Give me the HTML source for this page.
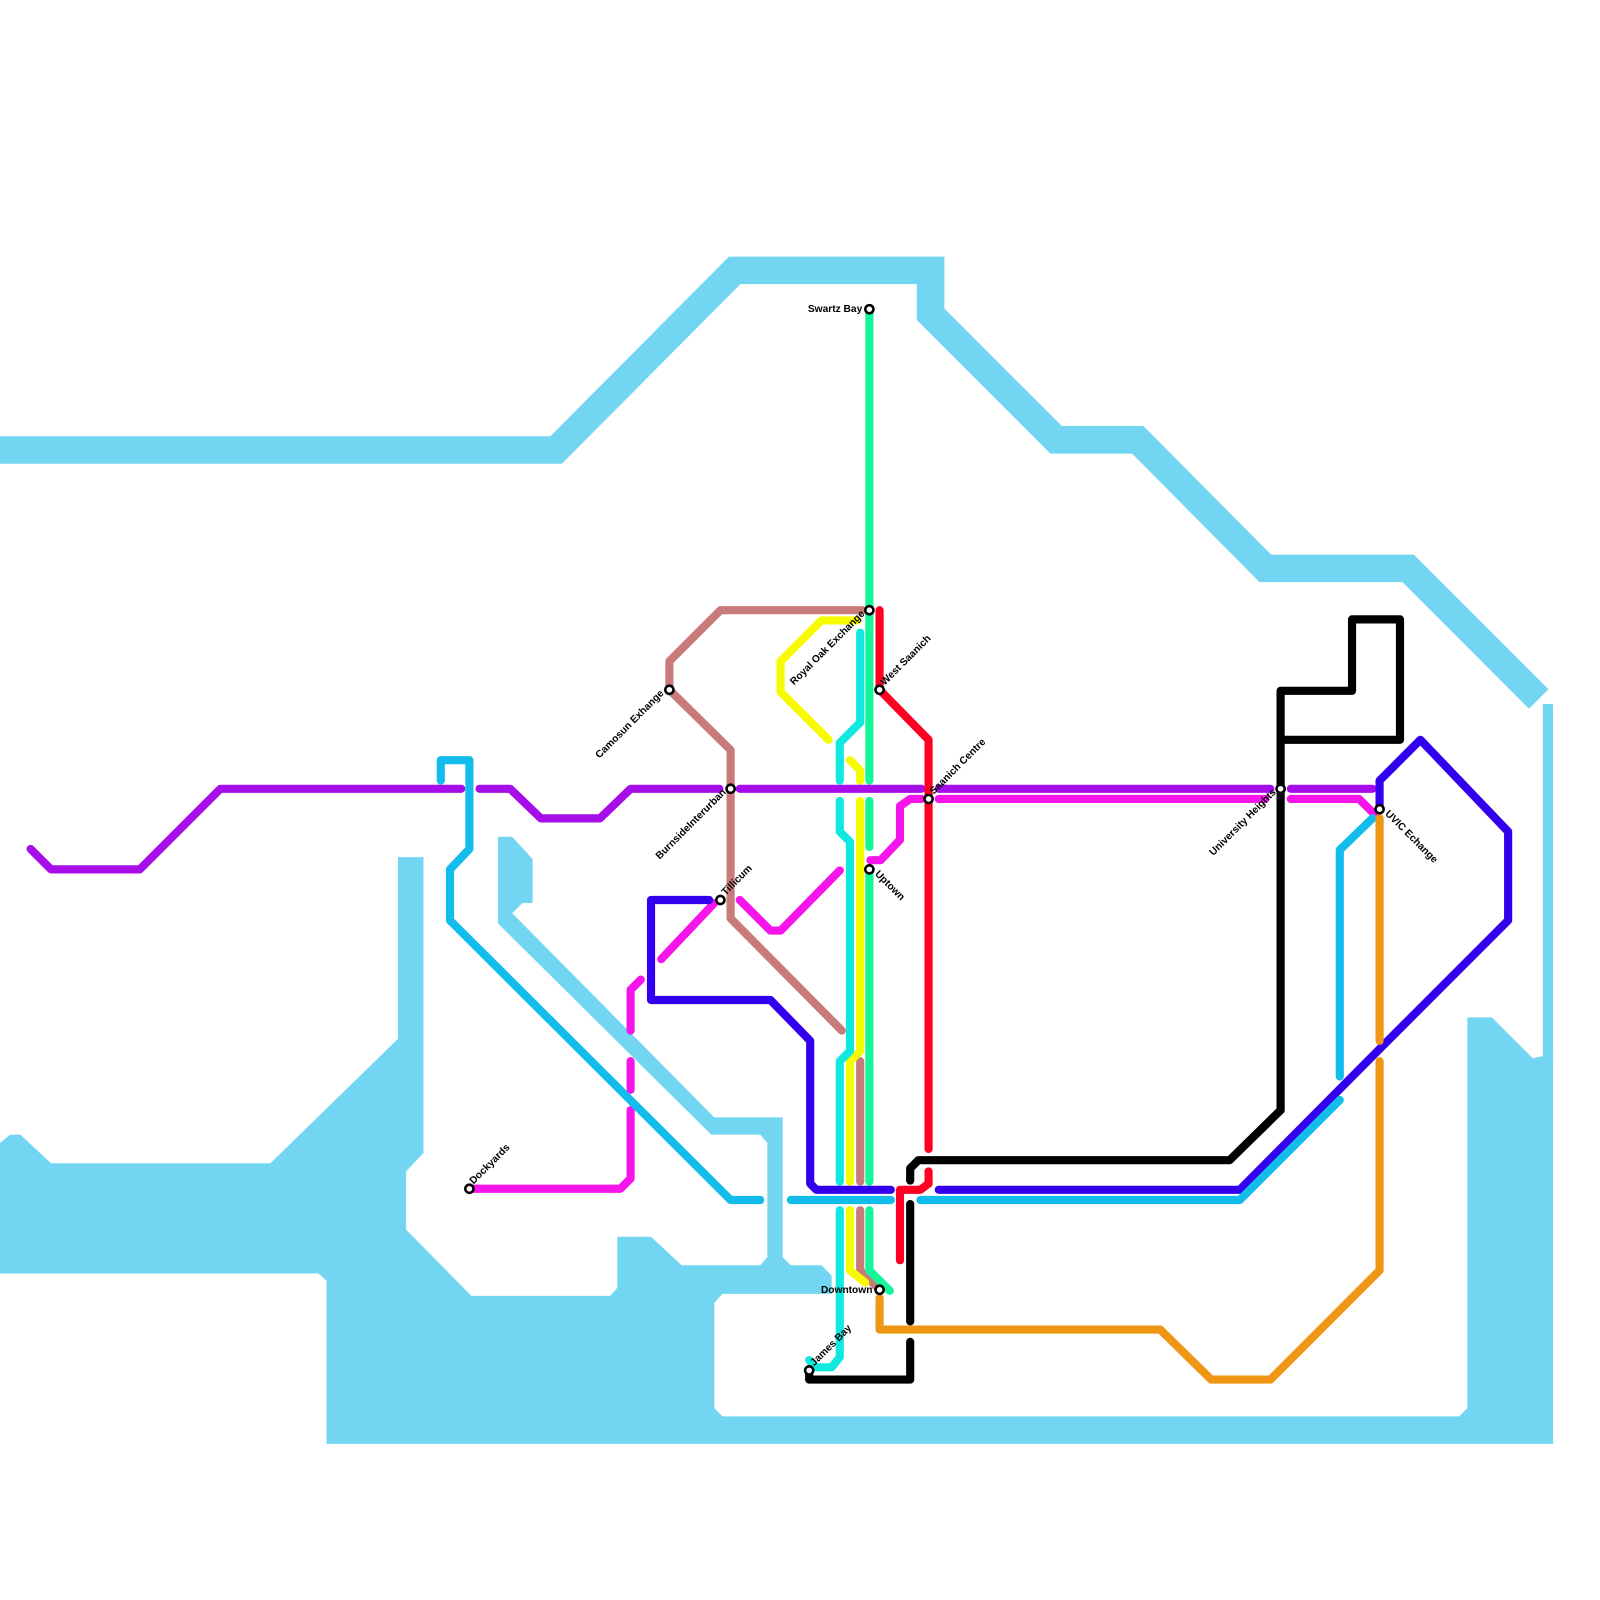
<!DOCTYPE html><html><head><style>body{margin:0;background:#fff}svg{display:block}text{font-family:"Liberation Sans",sans-serif;font-size:10px;font-weight:bold;fill:#000}</style></head><body>
<svg width="1600" height="1600" viewBox="0 0 1600 1600" xmlns="http://www.w3.org/2000/svg">
<g transform="scale(1.0204)">
<g fill="none" stroke="#72d6f2" stroke-width="27" stroke-linejoin="miter">
<polyline points="0,441 545,441 720,265 912,265 912,308 1035,431 1115,431 1240,557 1380,557 1508,685"/>
</g>
<g fill="#72d6f2">
<rect x="1512" y="690" width="10" height="350"/>
<polygon points="0,1120 10,1112 20,1112 50,1140 265,1140 390,1018 390,840 415,840 415,1130 398,1148 398,1205 462,1270 598,1270 605,1262 605,1212 638,1212 668,1240 745,1240 752,1232 752,1120 745,1112 697,1112 488,905 488,820 502,820 522,842 522,885 512,885 502,895 700,1095 767,1095 767,1232 775,1240 805,1240 815,1250 815,1268 708,1268 700,1277 700,1380 708,1388 1430,1388 1438,1380 1438,997 1462,997 1502,1037 1512,1035 1522,1025 1522,1415 320,1415 320,1255 312,1248 0,1248"/>
</g>
<g fill="none" stroke-width="8" stroke-linecap="round" stroke-linejoin="round">
<g stroke="#c97a7a"><polyline points="845,598 706,598 656,648 656,676 716,735 716,900 825,1010"/><polyline points="843,1040 843,1158"/><polyline points="843,1186 843,1245 858,1260"/></g>
<g stroke="#f7fb00"><polyline points="812,725 765,678 765,648 805,608 840,608"/><polyline points="833,745 843,755 843,765"/><polyline points="843,785 843,1030 833,1040 833,1158"/><polyline points="833,1186 833,1245 848,1257"/></g>
<g stroke="#10e8e0"><polyline points="843,620 843,708 823,728 823,765"/><polyline points="823,785 823,815 833,825 833,1030 823,1040 823,1158"/><polyline points="823,1186 823,1330 815,1340 800,1340 793,1333"/></g>
<g stroke="#15f59a"><polyline points="852,303 852,765"/><polyline points="852,785 852,830"/><polyline points="852,852 852,1158"/><polyline points="852,1186 852,1245 872,1265"/></g>
<g stroke="#a70de8"><polyline points="30,832 50,852 137,852 216,773 452,773"/><polyline points="470,773 500,773 530,802 588,802 618,773 705,773"/><polyline points="725,773 903,773"/><polyline points="920,773 1245,773"/><polyline points="1265,773 1345,773"/></g>
<g stroke="#f514ea"><polyline points="460,1165 608,1165 618,1155 618,1088"/><polyline points="618,1068 618,1040"/><polyline points="618,1010 618,970 628,960"/><polyline points="648,940 700,885"/><polyline points="725,882 755,912 765,912 823,853"/><polyline points="853,843 863,843 882,823 882,790 892,783 903,783"/><polyline points="920,783 1240,783"/><polyline points="1265,783 1332,783 1347,798"/></g>
<g stroke="#ff0022"><polyline points="862,598 862,676 910,725 910,1126"/><polyline points="910,1148 910,1160 902,1166 882,1166 882,1235"/></g>
<g stroke="#000"><polyline points="1255,1088 1255,677 1325,677 1325,607 1372,607 1372,725 1255,725"/><polyline points="1255,1088 1205,1137 900,1137 892,1145 892,1157"/><polyline points="892,1180 892,1295"/><polyline points="892,1315 892,1352 793,1352 793,1343"/></g>
<g stroke="#3300ee"><polyline points="695,882 638,882 638,980 755,980 794,1020 794,1160 800,1166 873,1166"/><polyline points="920,1166 1215,1166 1352,1028 1478,902 1478,815 1392,725 1352,765 1352,790"/></g>
<g stroke="#12bdec"><polyline points="432,765 432,745 460,745 460,832 441,852 441,902 716,1176 745,1176"/><polyline points="775,1176 873,1176"/><polyline points="902,1176 1215,1176 1313,1078"/><polyline points="1313,1055 1313,833 1345,802"/></g>
<g stroke="#ef9614"><polyline points="862,1272 862,1303 1137,1303 1187,1352 1245,1352 1352,1245 1352,1040"/><polyline points="1352,1020 1352,802"/></g>
</g>
<g fill="#fff" stroke="#000" stroke-width="2.5">
<circle cx="852" cy="303" r="4"/><circle cx="852" cy="598" r="4"/><circle cx="862" cy="676" r="4"/><circle cx="656" cy="676" r="4"/><circle cx="716" cy="773" r="4"/><circle cx="910" cy="783" r="4"/><circle cx="706" cy="882" r="4"/><circle cx="852" cy="852" r="4"/><circle cx="460" cy="1165" r="4"/><circle cx="862" cy="1264" r="4"/><circle cx="793" cy="1343" r="4"/><circle cx="1255" cy="773" r="4"/><circle cx="1352" cy="793" r="4"/>
</g>
<text x="845" y="306" text-anchor="end">Swartz Bay</text>
<text x="855" y="1267" text-anchor="end">Downtown</text>
<text transform="translate(848,602) rotate(-45)" text-anchor="end">Royal Oak Exchange</text>
<text transform="translate(867,672) rotate(-45)">West Saanich</text>
<text transform="translate(651,680) rotate(-45)" text-anchor="end">Camosun Exhange</text>
<text transform="translate(712,777) rotate(-45)" text-anchor="end">BurnsideInterurban</text>
<text transform="translate(915,779) rotate(-45)">Saanich Centre</text>
<text transform="translate(711,878) rotate(-45)">Tillicum</text>
<text transform="translate(464,1161) rotate(-45)">Dockyards</text>
<text transform="translate(798,1339) rotate(-45)">James Bay</text>
<text transform="translate(1251,777) rotate(-45)" text-anchor="end">University Heights</text>
<text transform="translate(857,857) rotate(45)">Uptown</text>
<text transform="translate(1357,798) rotate(45)">UVIC Echange</text>
</g>
</svg></body></html>
